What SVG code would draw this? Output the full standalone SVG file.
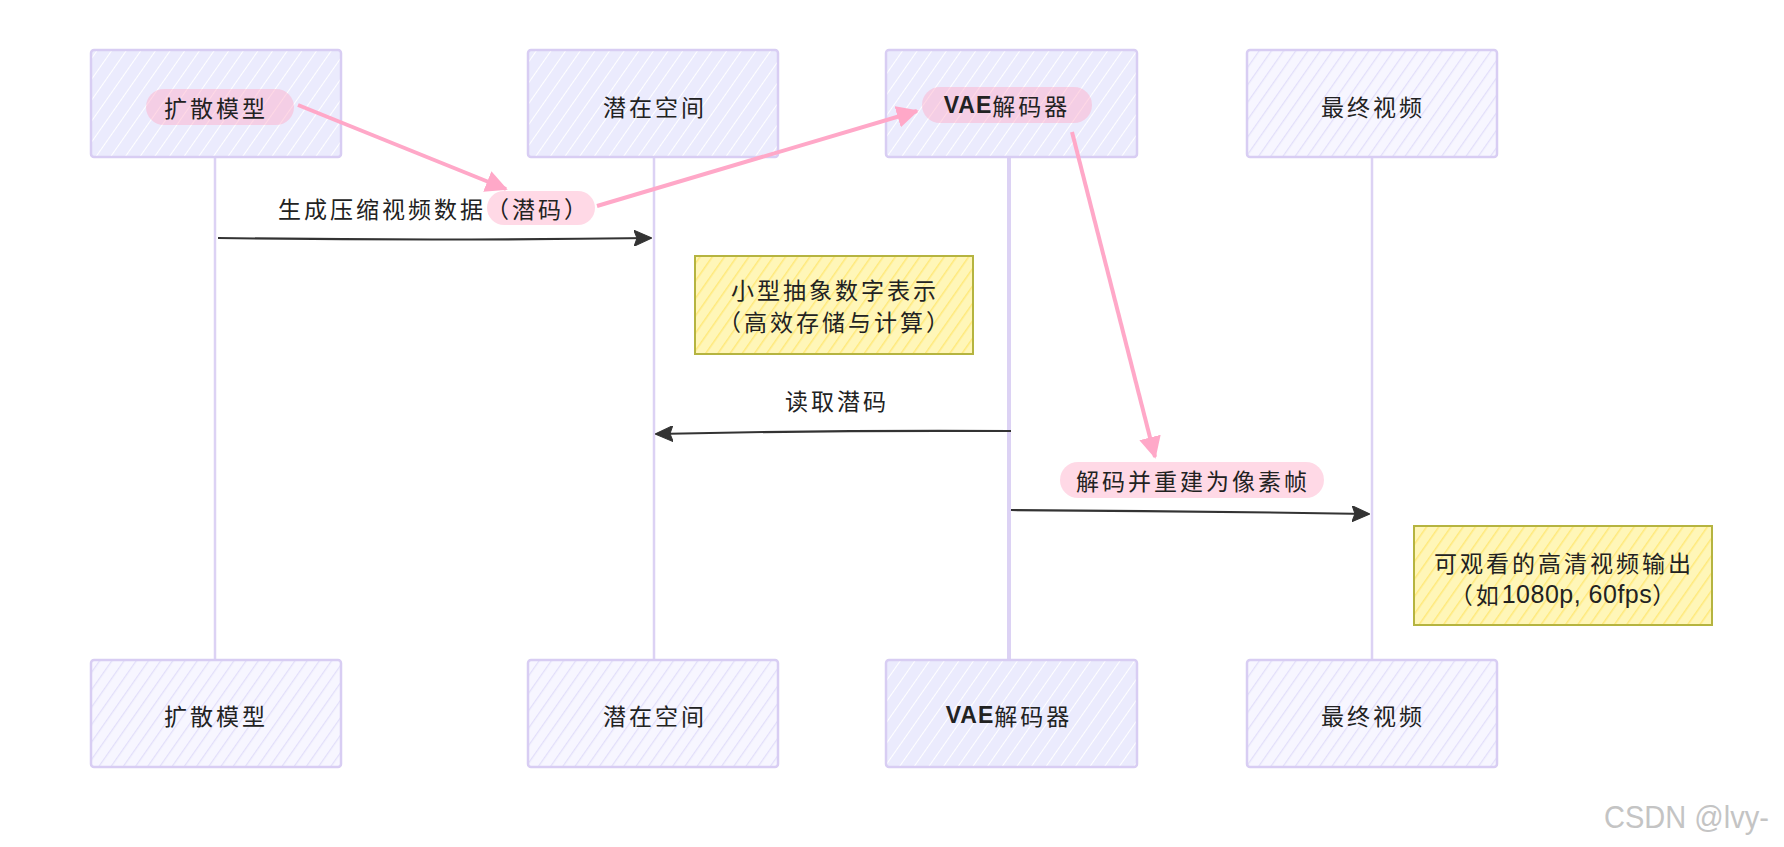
<svg xmlns="http://www.w3.org/2000/svg" width="1784" height="847" viewBox="0 0 1784 847">
<style>
.cjk{font-family:"Noto Sans CJK SC","Liberation Sans",sans-serif;font-size:23px;fill:#222;letter-spacing:3px;text-anchor:middle;dominant-baseline:central}
.actor{stroke:#d8cdf3;stroke-width:2.5}
.life{stroke:#dcd2f4;stroke-width:2.5;fill:none}
.msg{stroke:#333;stroke-width:2.2;fill:none}
.pink{stroke:#ffa8c8;stroke-width:4;fill:none}
.pill{fill:rgba(255,170,200,0.45)}
.note{stroke:#b5b440;stroke-width:2}
</style>
<defs>
<pattern id="hatchA" patternUnits="userSpaceOnUse" width="12" height="12" patternTransform="rotate(35)">
<rect width="12" height="12" fill="#ebebfd"/>
<line x1="0" y1="0" x2="0" y2="12" stroke="#ffffff" stroke-width="2"/>
</pattern>
<pattern id="hatchB" patternUnits="userSpaceOnUse" width="10" height="10" patternTransform="rotate(35)">
<rect width="10" height="10" fill="#f7f6ff"/>
<line x1="0" y1="0" x2="0" y2="10" stroke="#e2defa" stroke-width="2.5"/>
</pattern>
<pattern id="hatchY" patternUnits="userSpaceOnUse" width="10" height="10" patternTransform="rotate(35)">
<rect width="10" height="10" fill="#fff6b8"/>
<line x1="0" y1="0" x2="0" y2="10" stroke="#ffe97a" stroke-width="3"/>
</pattern>
<marker id="ah" viewBox="0 0 18 16" refX="17" refY="8" markerWidth="18" markerHeight="16" markerUnits="userSpaceOnUse" orient="auto">
<path d="M0,0 L18,8 L0,16 L3,8 Z" fill="#333" stroke="#333" stroke-width="1" stroke-linejoin="round"/>
</marker>
<marker id="ph" viewBox="0 0 12 12" refX="11" refY="6" markerWidth="22" markerHeight="22" markerUnits="userSpaceOnUse" orient="auto">
<path d="M0,0 L12,6 L0,12 Z" fill="#ffa8c8"/>
</marker>
</defs>
<rect width="1784" height="847" fill="#ffffff"/>

<g id="lifelines">
<line class="life" x1="215" y1="157" x2="215" y2="660"/>
<line class="life" x1="654" y1="157" x2="654" y2="660"/>
<line class="life" x1="1009" y1="157" x2="1009" y2="660" style="stroke-width:4"/>
<line class="life" x1="1372" y1="157" x2="1372" y2="660"/>
</g>

<g id="actor-diffusion-top">
<rect class="actor" x="91" y="50" width="250" height="107" rx="3" fill="url(#hatchA)"/>
<rect class="pill" x="146" y="89" width="148" height="36" rx="18"/>
<text class="cjk" x="216" y="107">扩散模型</text>
</g>
<g id="actor-latent-top">
<rect class="actor" x="528" y="50" width="250" height="107" rx="3" fill="url(#hatchA)"/>
<text class="cjk" x="655" y="106">潜在空间</text>
</g>
<g id="actor-vae-top">
<rect class="actor" x="886" y="50" width="251" height="107" rx="3" fill="url(#hatchA)"/>
<rect class="pill" x="922" y="87" width="170" height="36" rx="18"/>
<text class="cjk" x="1007" y="105"><tspan style="font-family:'Liberation Sans',sans-serif;font-weight:bold;letter-spacing:1px">VAE</tspan>解码器</text>
</g>
<g id="actor-video-top">
<rect class="actor" x="1247" y="50" width="250" height="107" rx="3" fill="url(#hatchB)"/>
<text class="cjk" x="1373" y="106">最终视频</text>
</g>

<g id="actor-diffusion-bottom">
<rect class="actor" x="91" y="660" width="250" height="107" rx="3" fill="url(#hatchB)"/>
<text class="cjk" x="216" y="715">扩散模型</text>
</g>
<g id="actor-latent-bottom">
<rect class="actor" x="528" y="660" width="250" height="107" rx="3" fill="url(#hatchB)"/>
<text class="cjk" x="655" y="715">潜在空间</text>
</g>
<g id="actor-vae-bottom">
<rect class="actor" x="886" y="660" width="251" height="107" rx="3" fill="url(#hatchA)"/>
<text class="cjk" x="1009" y="715"><tspan style="font-family:'Liberation Sans',sans-serif;font-weight:bold;letter-spacing:1px">VAE</tspan>解码器</text>
</g>
<g id="actor-video-bottom">
<rect class="actor" x="1247" y="660" width="250" height="107" rx="3" fill="url(#hatchB)"/>
<text class="cjk" x="1373" y="715">最终视频</text>
</g>

<g id="note-latent">
<rect class="note" x="695" y="256" width="278" height="98" fill="url(#hatchY)"/>
<text class="cjk" x="835" y="289">小型抽象数字表示</text>
<text class="cjk" x="835" y="321">（高效存储与计算）</text>
</g>
<g id="note-video">
<rect class="note" x="1414" y="526" width="298" height="99" fill="url(#hatchY)"/>
<text class="cjk" x="1564" y="562">可观看的高清视频输出</text>
<text class="cjk" x="1564" y="594">（如<tspan style="font-family:'Liberation Sans',sans-serif;font-size:25px;letter-spacing:0.5px">1080p, 60fps</tspan>）</text>
</g>

<g id="connectors">
<path class="msg" d="M218,238 Q430,241 651,238" marker-end="url(#ah)"/>
<path class="msg" d="M1011,431 Q830,430 656,434" marker-end="url(#ah)"/>
<path class="msg" d="M1011,510 Q1190,511 1369,514" marker-end="url(#ah)"/>
<rect class="pill" x="487" y="191" width="108" height="34" rx="17"/>
<text class="cjk" x="434" y="208">生成压缩视频数据（潜码）</text>
<text class="cjk" x="837" y="400">读取潜码</text>
<rect class="pill" x="1060" y="462" width="264" height="36" rx="18"/>
<text class="cjk" x="1193" y="480">解码并重建为像素帧</text>
<line class="pink" x1="298" y1="105" x2="506" y2="189" marker-end="url(#ph)"/>
<line class="pink" x1="597" y1="206" x2="917" y2="111" marker-end="url(#ph)"/>
<line class="pink" x1="1072" y1="132" x2="1155" y2="457" marker-end="url(#ph)"/>
</g>

<text x="1769" y="828" textLength="165" lengthAdjust="spacingAndGlyphs" style="font-family:'Liberation Sans',sans-serif;font-size:32px;fill:#c4c4c4;text-anchor:end">CSDN @lvy-</text>
</svg>
